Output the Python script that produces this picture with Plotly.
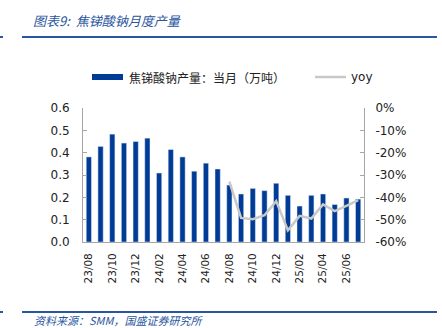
import plotly.graph_objects as go

months = ["23/08","23/09","23/10","23/11","23/12","24/01","24/02","24/03","24/04","24/05",
          "24/06","24/07","24/08","24/09","24/10","24/11","24/12","25/01","25/02","25/03",
          "25/04","25/05","25/06","25/07"]
output = [0.381,0.428,0.483,0.443,0.450,0.465,0.309,0.414,0.381,0.317,
          0.353,0.327,0.255,0.215,0.240,0.230,0.263,0.209,0.161,0.209,
          0.215,0.168,0.197,0.192]
yoy = [None]*12 + [-33.0,-49.2,-49.8,-48.0,-41.7,-54.8,-48.3,-49.5,-43.2,-46.2,-43.8,-41.3]
tick_months = months[::2]
left_ticks = [0,0.1,0.2,0.3,0.4,0.5,0.6]
left_labels = ["0.0","0.1","0.2","0.3","0.4","0.5","0.6"]
right_ticks = [0,-10,-20,-30,-40,-50,-60]
right_labels = ["0%","-10%","-20%","-30%","-40%","-50%","-60%"]

BAR = "#003C96"
LINE = "#C8C8C8"
BLUE = "#2A56A0"
num_font = "DejaVu Sans"
cjk = "Noto Sans CJK SC"

fig = go.Figure()
fig.add_trace(go.Bar(x=months, y=output, marker_color=BAR, width=0.45,
                     name="焦锑酸钠产量：当月（万吨）", showlegend=False))
fig.add_trace(go.Scatter(x=months, y=yoy, yaxis="y2", mode="lines",
                         line=dict(color=LINE, width=2.5), name="yoy",
                         showlegend=False, connectgaps=False))

fig.update_layout(
    width=442, height=328,
    margin=dict(l=83, r=78, t=108, b=86),
    paper_bgcolor="white", plot_bgcolor="white",
    bargap=0.55,
    xaxis=dict(type="category", tickmode="array", tickvals=tick_months, ticktext=tick_months,
               tickangle=-90, tickfont=dict(family=num_font, size=10.5, color="#222"),
               showline=True, linecolor="#A6A6A6", linewidth=1, ticks="", showgrid=False,
               ticklabelstandoff=6, range=[-0.5, len(months)-0.5]),
    yaxis=dict(range=[0,0.6], tickmode="array", tickvals=left_ticks, ticktext=left_labels,
               tickfont=dict(family=num_font, size=12, color="#222"),
               showline=True, linecolor="#A6A6A6", linewidth=1, ticks="inside", ticklen=4,
               tickcolor="#A6A6A6", showgrid=False, zeroline=False, ticklabelstandoff=10),
    yaxis2=dict(range=[-60,0], overlaying="y", side="right", tickmode="array",
                tickvals=right_ticks, ticktext=right_labels,
                tickfont=dict(family=num_font, size=12, color="#222"),
                showline=True, linecolor="#A6A6A6", linewidth=1, ticks="inside", ticklen=4,
                tickcolor="#A6A6A6", showgrid=False, zeroline=False, ticklabelstandoff=8),
)

def px_x(x):
    return (x-83)/281
def px_y(y):
    return (242-y)/134

shapes = [
    dict(type="line", xref="paper", yref="paper", x0=px_x(22), x1=px_x(437), y0=px_y(37), y1=px_y(37),
         line=dict(color=BLUE, width=2)),
    dict(type="line", xref="paper", yref="paper", x0=px_x(0), x1=px_x(3), y0=px_y(37), y1=px_y(37),
         line=dict(color=BLUE, width=2)),
    dict(type="line", xref="paper", yref="paper", x0=px_x(22), x1=px_x(437), y0=px_y(312), y1=px_y(312),
         line=dict(color=BLUE, width=2)),
    dict(type="line", xref="paper", yref="paper", x0=px_x(0), x1=px_x(3), y0=px_y(312), y1=px_y(312),
         line=dict(color=BLUE, width=2)),
    dict(type="rect", xref="paper", yref="paper", x0=px_x(92), x1=px_x(123), y0=px_y(80), y1=px_y(74),
         fillcolor=BAR, line=dict(width=0)),
    dict(type="line", xref="paper", yref="paper", x0=px_x(315), x1=px_x(346), y0=px_y(77), y1=px_y(77),
         line=dict(color=LINE, width=2.5)),
]
annotations = [
    dict(text="图表9:  焦锑酸钠月度产量", xref="paper", yref="paper", x=px_x(31), y=px_y(20),
         xanchor="left", yanchor="middle", showarrow=False,
         font=dict(family=cjk, size=13, color=BLUE, style="italic")),
    dict(text="焦锑酸钠产量：当月（万吨）", xref="paper", yref="paper", x=px_x(127), y=px_y(77),
         xanchor="left", yanchor="middle", showarrow=False,
         font=dict(family=cjk, size=12, color="#222")),
    dict(text="yoy", xref="paper", yref="paper", x=px_x(349), y=px_y(77),
         xanchor="left", yanchor="middle", showarrow=False,
         font=dict(family=num_font, size=12, color="#222")),
    dict(text="资料来源：SMM，国盛证券研究所", xref="paper", yref="paper", x=px_x(32), y=px_y(320),
         xanchor="left", yanchor="middle", showarrow=False,
         font=dict(family=cjk, size=11, color=BLUE, style="italic")),
]
fig.update_layout(shapes=shapes, annotations=annotations)
fig.write_html("out.html")
